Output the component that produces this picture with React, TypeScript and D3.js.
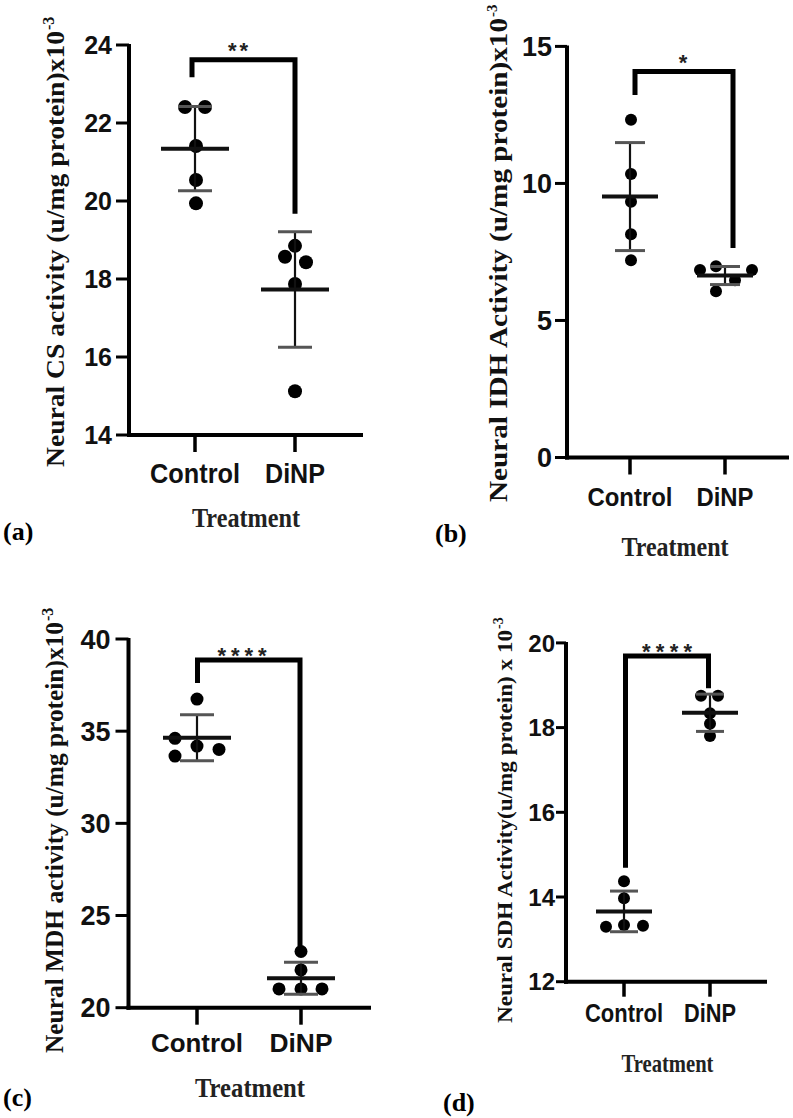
import React from "react";
import * as d3 from "d3";

// ---------- data ----------
const groups = ["Control", "DiNP"];

const csControl = [22.41, 22.41, 21.41, 20.54, 19.94];
const csDiNP = [18.85, 18.57, 18.43, 17.87, 15.12];
const csMean = [21.34, 17.73];
const csSD = [1.08, 1.48];
const csTicks = [14, 16, 18, 20, 22, 24];

const idhControl = [12.32, 10.34, 9.33, 8.15, 7.2];
const idhDiNP = [6.84, 6.98, 6.47, 6.84, 6.07];
const idhMean = [9.52, 6.64];
const idhSD = [1.97, 0.33];
const idhTicks = [0, 5, 10, 15];

const mdhControl = [36.74, 34.61, 34.19, 34.01, 33.65];
const mdhDiNP = [23.05, 22.05, 21.02, 21.02, 21.02];
const mdhMean = [34.64, 21.6];
const mdhSD = [1.25, 0.87];
const mdhTicks = [20, 25, 30, 35, 40];

const sdhControl = [14.37, 13.97, 13.3, 13.34, 13.32];
const sdhDiNP = [18.75, 18.75, 18.34, 18.09, 17.8];
const sdhMean = [13.66, 18.35];
const sdhSD = [0.48, 0.44];
const sdhTicks = [12, 14, 16, 18, 20];

const significance = ["**", "*", "****", "****"];
const yTitles = [
  "Neural CS activity (u/mg protein)x10",
  "Neural IDH Activity (u/mg protein)x10",
  "Neural MDH activity (u/mg protein)x10",
  "Neural SDH Activity(u/mg protein) x 10",
];
const panelLetters = ["(a)", "(b)", "(c)", "(d)"];
const xTitle = "Treatment";

// ---------- layout (positions / sizes / styles) ----------
const SANS = "'Liberation Sans', Arial, Helvetica, sans-serif";
const SERIF = "'Liberation Serif', 'Times New Roman', Times, serif";

type Layout = {
  values: number[][];
  mean: number[];
  sd: number[];
  ticks: number[];
  domain: [number, number];
  yRange: [number, number];
  axisX: number;
  xEnd: number;
  xPos: number[];
  tickLen: number;
  xTickLen: number;
  tickFont: number;
  labelGap: number;
  xLabelFont: number;
  xLabelBase: number;
  xLabelW: number[];
  r: number;
  meanHalf: number;
  sdHalf: number;
  jitter: number[][];
  bracket: { x1: number; x2: number; top: number; lb: number; rb: number };
  star: { x: number; y: number; w: number; fs: number };
  yTitle: { x: number; bottom: number; len: number; fs: number; sup: number };
  treat: { x: number; base: number; w: number; fs: number };
  letter: { x: number; base: number; fs: number };
};

const layouts: Layout[] = [
  {
    values: [csControl, csDiNP], mean: csMean, sd: csSD, ticks: csTicks,
    domain: [14, 24], yRange: [435, 45], axisX: 129, xEnd: 363, xPos: [195, 295],
    tickLen: 13, xTickLen: 17, tickFont: 25, labelGap: 17,
    xLabelFont: 27, xLabelBase: 483, xLabelW: [90, 60],
    r: 7, meanHalf: 34, sdHalf: 17,
    jitter: [[-10, 10, 1, 1, 1], [0, -10, 11, 0, 0]],
    bracket: { x1: 192, x2: 295, top: 23.62, lb: 23.17, rb: 19.67 },
    star: { x: 238, y: 24.0, w: 20, fs: 22 },
    yTitle: { x: 64, bottom: 467, len: 436, fs: 26, sup: 16 },
    treat: { x: 246, base: 527, w: 108, fs: 27 },
    letter: { x: 3, base: 540, fs: 26 },
  },
  {
    values: [idhControl, idhDiNP], mean: idhMean, sd: idhSD, ticks: idhTicks,
    domain: [0, 15], yRange: [457.5, 46.4], axisX: 567, xEnd: 789, xPos: [630, 725],
    tickLen: 12, xTickLen: 17, tickFont: 27, labelGap: 15,
    xLabelFont: 25, xLabelBase: 506, xLabelW: [85, 57],
    r: 6, meanHalf: 28, sdHalf: 15,
    jitter: [[1, 1, 1, 1, 1], [-25, -9, 10, 27, -9]],
    bracket: { x1: 635, x2: 733, top: 14.08, lb: 13.23, rb: 7.64 },
    star: { x: 683, y: 14.6, w: 10, fs: 22 },
    yTitle: { x: 507, bottom: 502, len: 484, fs: 25, sup: 15 },
    treat: { x: 675, base: 556, w: 107, fs: 27 },
    letter: { x: 435, base: 542, fs: 26 },
  },
  {
    values: [mdhControl, mdhDiNP], mean: mdhMean, sd: mdhSD, ticks: mdhTicks,
    domain: [20, 40], yRange: [1007.7, 639], axisX: 128.5, xEnd: 371, xPos: [197, 301],
    tickLen: 13, xTickLen: 17, tickFont: 27, labelGap: 18,
    xLabelFont: 25, xLabelBase: 1052, xLabelW: [92, 63],
    r: 6.5, meanHalf: 34, sdHalf: 17,
    jitter: [[0, -22, 0, 22, -22], [0, 0, -22, 0, 21]],
    bracket: { x1: 197.5, x2: 300, top: 38.86, lb: 37.62, rb: 23.34 },
    star: { x: 242, y: 39.4, w: 49, fs: 22 },
    yTitle: { x: 63, bottom: 1053, len: 431, fs: 25, sup: 16 },
    treat: { x: 250, base: 1097, w: 110, fs: 27 },
    letter: { x: 3, base: 1106, fs: 26 },
  },
  {
    values: [sdhControl, sdhDiNP], mean: sdhMean, sd: sdhSD, ticks: sdhTicks,
    domain: [12, 20], yRange: [981.7, 642.9], axisX: 566, xEnd: 767, xPos: [624, 710],
    tickLen: 10, xTickLen: 15, tickFont: 24, labelGap: 11,
    xLabelFont: 25, xLabelBase: 1022, xLabelW: [78, 52],
    r: 6, meanHalf: 28, sdHalf: 14,
    jitter: [[0, 0, -18, 0, 19], [-9, 8, 0, 0, 0]],
    bracket: { x1: 625.5, x2: 708.5, top: 19.69, lb: 14.69, rb: 18.93 },
    star: { x: 667, y: 19.93, w: 50, fs: 22 },
    yTitle: { x: 512, bottom: 1023, len: 393, fs: 22, sup: 14 },
    treat: { x: 667.5, base: 1072, w: 92, fs: 25 },
    letter: { x: 443, base: 1111, fs: 26 },
  },
];

function Panel({ L, idx }: { L: Layout; idx: number }) {
  const y = d3.scaleLinear().domain(L.domain).range(L.yRange);
  const x = d3.scaleOrdinal<string, number>().domain(groups).range(L.xPos);
  const y0 = L.yRange[0];
  const yTop = L.yRange[1];
  const t = L.yTitle;
  return (
    <g>
      <line x1={L.axisX} x2={L.axisX} y1={yTop - 1} y2={y0 + 2} stroke="#000" strokeWidth={4} />
      <line x1={L.axisX - 2} x2={L.xEnd} y1={y0} y2={y0} stroke="#000" strokeWidth={4} />
      {L.ticks.map((v) => (
        <g key={v}>
          <line x1={L.axisX - L.tickLen} x2={L.axisX} y1={y(v)} y2={y(v)} stroke="#000" strokeWidth={3} />
          <text
            x={L.axisX - L.labelGap}
            y={y(v)}
            dy="0.36em"
            textAnchor="end"
            fontFamily={SANS}
            fontWeight="bold"
            fontSize={L.tickFont}
            fill="#111"
          >
            {v}
          </text>
        </g>
      ))}
      {groups.map((g, gi) => (
        <g key={g}>
          <line x1={x(g)} x2={x(g)} y1={y0} y2={y0 + L.xTickLen} stroke="#000" strokeWidth={3.5} />
          <text
            x={x(g)}
            y={L.xLabelBase}
            textAnchor="middle"
            fontFamily={SANS}
            fontWeight="bold"
            fontSize={L.xLabelFont}
            textLength={L.xLabelW[gi]}
            lengthAdjust="spacingAndGlyphs"
            fill="#111"
          >
            {g}
          </text>
        </g>
      ))}
      {groups.map((g, gi) =>
        L.values[gi].map((v, i) => (
          <circle key={g + i} cx={x(g) + L.jitter[gi][i]} cy={y(v)} r={L.r} fill="#000" />
        ))
      )}
      {groups.map((g, gi) => {
        const cx = x(g);
        const m = L.mean[gi];
        const s = L.sd[gi];
        return (
          <g key={"ms" + g}>
            <line x1={cx} x2={cx} y1={y(m + s)} y2={y(m - s)} stroke="#111" strokeWidth={2.2} />
            <line x1={cx - L.sdHalf} x2={cx + L.sdHalf} y1={y(m + s)} y2={y(m + s)} stroke="#555" strokeWidth={3} />
            <line x1={cx - L.sdHalf} x2={cx + L.sdHalf} y1={y(m - s)} y2={y(m - s)} stroke="#555" strokeWidth={3} />
            <line x1={cx - L.meanHalf} x2={cx + L.meanHalf} y1={y(m)} y2={y(m)} stroke="#111" strokeWidth={4} />
          </g>
        );
      })}
      <path
        d={`M${L.bracket.x1},${y(L.bracket.lb)}V${y(L.bracket.top)}H${L.bracket.x2}V${y(L.bracket.rb)}`}
        fill="none"
        stroke="#000"
        strokeWidth={5}
        strokeLinejoin="miter"
      />
      <text
        x={L.star.x}
        y={y(L.star.y)}
        dy={L.star.fs * 0.58}
        textAnchor="middle"
        fontFamily={SANS}
        fontSize={L.star.fs}
        fontWeight="bold"
        textLength={L.star.w}
        lengthAdjust="spacing"
        fill="#222"
      >
        {significance[idx]}
      </text>
      <text
        transform={`translate(${t.x},${t.bottom}) rotate(-90)`}
        fontFamily={SERIF}
        fontWeight="bold"
        fontSize={t.fs}
        textLength={t.len}
        lengthAdjust="spacingAndGlyphs"
        fill="#111"
      >
        {yTitles[idx]}
      </text>
      <text
        transform={`translate(${t.x - t.fs * 0.4},${t.bottom - t.len - 1}) rotate(-90)`}
        fontFamily={SERIF}
        fontWeight="bold"
        fontSize={t.sup}
        fill="#111"
      >
        -3
      </text>
      <text
        x={L.treat.x}
        y={L.treat.base}
        textAnchor="middle"
        fontFamily={SERIF}
        fontWeight="bold"
        fontSize={L.treat.fs}
        textLength={L.treat.w}
        lengthAdjust="spacingAndGlyphs"
        fill="#222"
      >
        {xTitle}
      </text>
      <text x={L.letter.x} y={L.letter.base} fontFamily={SERIF} fontWeight="bold" fontSize={L.letter.fs} fill="#000">
        {panelLetters[idx]}
      </text>
    </g>
  );
}

export default function App() {
  return (
    <svg
      width={793}
      height={1118}
      viewBox="0 0 793 1118"
      style={{ position: "absolute", left: 0, top: 0, background: "#fff" }}
    >
      <rect x={0} y={0} width={793} height={1118} fill="#fff" />
      {layouts.map((L, i) => (
        <Panel key={i} L={L} idx={i} />
      ))}
    </svg>
  );
}
